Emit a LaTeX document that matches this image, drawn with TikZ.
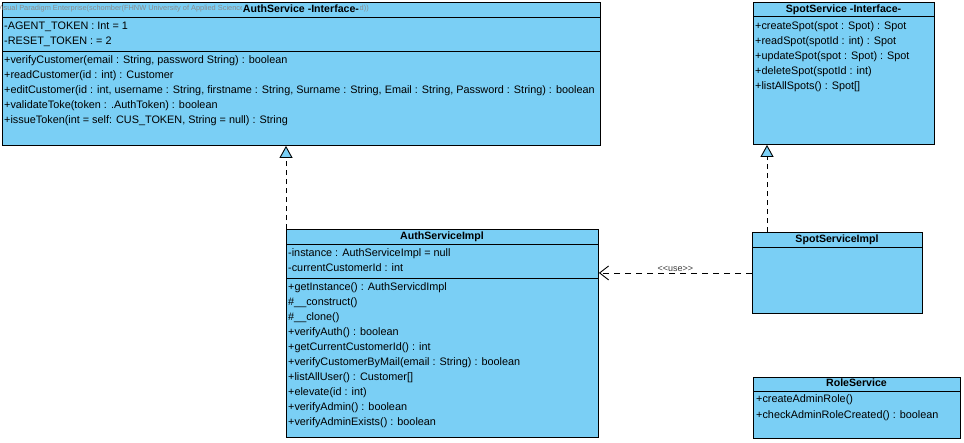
\documentclass[tikz,border=0pt]{standalone}
\usepackage{fontspec}
\setmainfont{Liberation Sans}
\usetikzlibrary{arrows.meta}
\definecolor{classblue}{RGB}{122,207,245}
\begin{document}
\begin{tikzpicture}[x=1pt,y=-1pt]
	\tikzstyle{classbox}=[draw=black,fill=classblue,line width=0.9pt,inner sep=0pt,anchor=north west]
	\tikzstyle{member}=[anchor=west,inner sep=0pt,text height=8pt,text depth=2.5pt,font=\fontsize{10.85}{12}\selectfont]
	\tikzstyle{title}=[inner sep=1pt,text height=8pt,text depth=2.5pt,font=\fontsize{10.6}{12}\selectfont\bfseries]
	\tikzstyle{realize}=[dashed,dash pattern=on 5pt off 4pt,line width=0.9pt,-{Triangle[fill=classblue,length=12pt,width=13pt]}]
	\tikzstyle{usage}=[dashed,dash pattern=on 6pt off 5pt,line width=0.9pt,-{Straight Barb[length=9pt,width=14pt]}]
	\useasboundingbox (0,0) rectangle (964,442);

	% class boxes
	\node[classbox,minimum width=598pt,minimum height=143pt] (AS) at (2,2) {};
	\node[classbox,minimum width=181pt,minimum height=142pt] (SS) at (753,2) {};
	\node[classbox,minimum width=312pt,minimum height=208pt] (ASI) at (286,229) {};
	\node[classbox,minimum width=170pt,minimum height=81pt] (SSI) at (752,232) {};
	\node[classbox,minimum width=207pt,minimum height=61pt] (RS) at (753,377) {};

	% compartments
	\draw[line width=0.9pt] (2,17) -- (600,17);
	\draw[line width=0.9pt] (2,51) -- (600,51);
	\draw[line width=0.9pt] (753,16) -- (934,16);
	\draw[line width=0.9pt] (286,244) -- (598,244);
	\draw[line width=0.9pt] (286,278) -- (598,278);
	\draw[line width=0.9pt] (752,247) -- (922,247);
	\draw[line width=0.9pt] (753,391) -- (960,391);

	% watermark
	\node[anchor=west,inner sep=0pt,text=black!45,font=\fontsize{7.4}{8}\selectfont] (WM) at (-3,8.5) {Visual Paradigm Enterprise(schomber(FHNW University of Applied Sciences and Arts Northwestern Switzerland))};

	% titles
	\node[title,fill=classblue] (ASt) at (301,9.5) {AuthService -Interface-};
	\node[title] (SSt) at (843.5,9.5) {SpotService -Interface-};
	\node[title] (ASIt) at (442,237) {AuthServiceImpl};
	\node[title] (SSIt) at (837,240) {SpotServiceImpl};
	\node[title] (RSt) at (856.5,384) {RoleService};

	% AuthService
	\node[member] (ASa1) at (4,27) {-AGENT\_TOKEN : Int = 1};
	\node[member] (ASa2) at (4,42) {-RESET\_TOKEN : = 2};
	\node[member] (ASm1) at (4,61) {+verifyCustomer(email : String, password String) : boolean};
	\node[member] (ASm2) at (4,76) {+readCustomer(id : int) : Customer};
	\node[member] (ASm3) at (4,91) {+editCustomer(id : int, username : String, firstname : String, Surname : String, Email : String, Password : String) : boolean};
	\node[member] (ASm4) at (4,106) {+validateToke(token : .AuthToken) : boolean};
	\node[member] (ASm5) at (4,121) {+issueToken(int = self: CUS\_TOKEN, String = null) : String};

	% SpotService
	\node[member] (SSm1) at (755,27) {+createSpot(spot : Spot) : Spot};
	\node[member] (SSm2) at (755,42) {+readSpot(spotId : int) : Spot};
	\node[member] (SSm3) at (755,57) {+updateSpot(spot : Spot) : Spot};
	\node[member] (SSm4) at (755,72) {+deleteSpot(spotId : int)};
	\node[member] (SSm5) at (755,87) {+listAllSpots() : Spot[]};

	% AuthServiceImpl
	\node[member] (ASIa1) at (288,254) {-instance : AuthServiceImpl = null};
	\node[member] (ASIa2) at (288,269) {-currentCustomerId : int};
	\node[member] (ASIm1) at (288,288) {+getInstance() : AuthServicdImpl};
	\node[member] (ASIm2) at (288,303) {\#\_\_construct()};
	\node[member] (ASIm3) at (288,318) {\#\_\_clone()};
	\node[member] (ASIm4) at (288,333) {+verifyAuth() : boolean};
	\node[member] (ASIm5) at (288,348) {+getCurrentCustomerId() : int};
	\node[member] (ASIm6) at (288,363) {+verifyCustomerByMail(email : String) : boolean};
	\node[member] (ASIm7) at (288,378) {+listAllUser() : Customer[]};
	\node[member] (ASIm8) at (288,393) {+elevate(id : int)};
	\node[member] (ASIm9) at (288,408) {+verifyAdmin() : boolean};
	\node[member] (ASIm10) at (288,423) {+verifyAdminExists() : boolean};

	% RoleService
	\node[member] (RSm1) at (756,400) {+createAdminRole()};
	\node[member] (RSm2) at (756,416) {+checkAdminRoleCreated() : boolean};

	% relations
	\coordinate (SSIr) at (767,232);
	\draw[realize] (ASI.north west) -- (ASI.north west |- AS.south);
	\draw[realize] (SSIr) -- (SSIr |- SS.south);
	\draw[usage] (SSI.west) -- (ASI.east |- SSI.west)
		node[pos=0.5,fill=white,inner xsep=10pt,inner ysep=1pt,font=\fontsize{9}{10}\selectfont,text=black!75,yshift=4pt] (use) {<{}<use>{}>};
\end{tikzpicture}
\end{document}
